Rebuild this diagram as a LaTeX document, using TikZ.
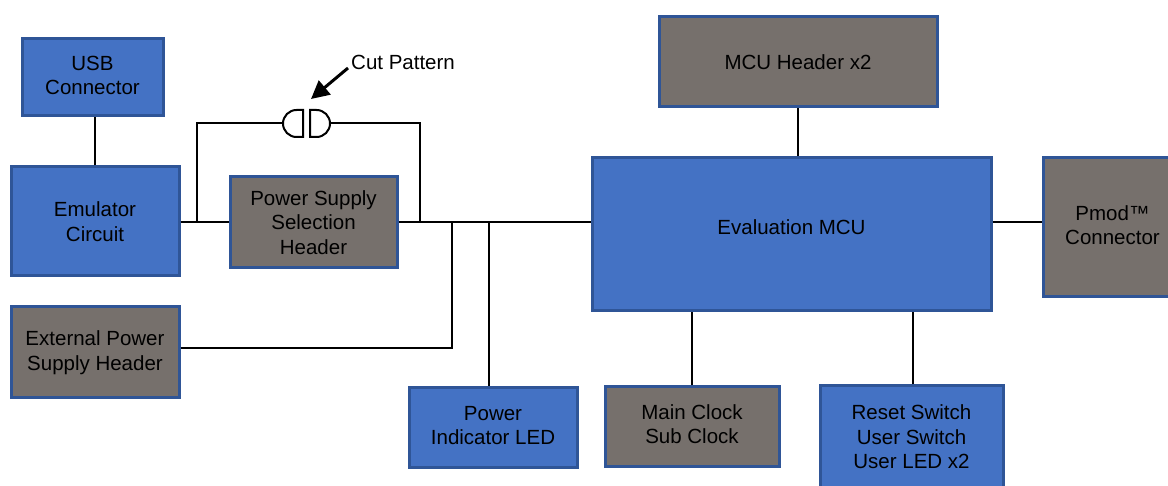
\documentclass[tikz,border=0pt]{standalone}
\usepackage{fontspec}
\setmainfont{Liberation Sans}
\usetikzlibrary{arrows.meta,calc}
\definecolor{bfill}{HTML}{4472C4}
\definecolor{bdraw}{HTML}{2F5597}
\definecolor{gfill}{HTML}{76706C}
\tikzset{
  box/.style={draw=bdraw, line width=3pt, align=center, inner sep=2pt,
    font=\fontsize{20.5}{24.5}\selectfont, text=black},
  bluebox/.style={box, fill=bfill},
  graybox/.style={box, fill=gfill},
  wire/.style={line width=2pt, draw=black},
}
\newcommand{\liftlines}[2]{\raisebox{#1}{\begin{tabular}{@{}c@{}}#2\end{tabular}}}
\begin{document}
\begin{tikzpicture}[x=1pt,y=-1pt]
\useasboundingbox (0,0) rectangle (1168,486);
% boxes
\node[bluebox, minimum width=141, minimum height=77] (usb) at (92.5,77.5) {\liftlines{4pt}{USB\\Connector}};
\node[bluebox, minimum width=168, minimum height=109] (emu) at (95,221.5) {Emulator\\Circuit};
\node[graybox, minimum width=167, minimum height=91] (pssh) at (313.5,222.5) {Power Supply\\Selection\\Header};
\node[graybox, minimum width=168, minimum height=91] (ext) at (95,352.5) {External Power\\Supply Header};
\node[bluebox, minimum width=168, minimum height=79] (led) at (493,427.5) {\liftlines{6pt}{Power\\Indicator LED}};
\node[bluebox, minimum width=399, minimum height=153] (mcu) at (791.5,234.5) {\raisebox{14pt}{Evaluation MCU}};
\node[graybox, minimum width=278, minimum height=90] (hdr) at (798,62) {\raisebox{-4pt}{MCU Header x2}};
\node[graybox, minimum width=139, minimum height=139] (pmod) at (1112.5,227.5) {\liftlines{10pt}{Pmod™\\Connector}};
\node[graybox, minimum width=174, minimum height=79] (clk) at (692,426.5) {\liftlines{4pt}{Main Clock\\Sub Clock}};
\node[bluebox, minimum width=183, minimum height=102] (rst) at (911.5,437) {Reset Switch\\User Switch\\User LED x2};
% coordinates
\coordinate (bl) at (197,222);
\coordinate (tl) at (197,123);
\coordinate (cutL) at (283,123);
\coordinate (cutR) at (330,123);
\coordinate (tr) at (420,123);
\coordinate (br) at (420,222);
\coordinate (ej) at (452,222);
\coordinate (lj) at (489,222);
% wires
\draw[wire] (emu.north) -- (emu.north |- usb.south);
\draw[wire] (emu.east |- bl) -- (pssh.west |- bl);
\draw[wire] (pssh.east |- bl) -- (mcu.west |- bl);
\draw[wire] (bl) -- (tl) -- (cutL);
\draw[wire] (cutR) -- (tr) -- (br);
\draw[wire] ($(ext.east)+(0,-4.5)$) -| (ej);
\draw[wire] (lj) -- (lj |- led.north);
\draw[wire] (hdr.south) -- (hdr.south |- mcu.north);
\draw[wire] (mcu.east |- bl) -- (pmod.west |- bl);
\draw[wire] (clk.north) -- (clk.north |- mcu.south);
\draw[wire] ($(rst.north)+(1.5,0)$) -- ($(rst.north |- mcu.south)+(1.5,0)$);
% cut pattern symbol
\draw[wire, fill=white] (303,110) -- (296.5,110) arc[start angle=270, end angle=90, radius=13.5] -- (303,137) -- cycle;
\draw[wire, fill=white] (310,110) -- (316.5,110) arc[start angle=-90, end angle=90, radius=13.5] -- (310,137) -- cycle;
% label and arrow
\node[anchor=west, font=\fontsize{20.5}{24.5}\selectfont, inner sep=0pt] (cutlbl) at (351,62) {Cut Pattern};
\coordinate (atip) at (311,99);
\draw[line width=3pt, -{Triangle[length=18pt,width=18pt]}] ($(cutlbl.west)+(-3,6)$) -- (atip);
\end{tikzpicture}
\end{document}
